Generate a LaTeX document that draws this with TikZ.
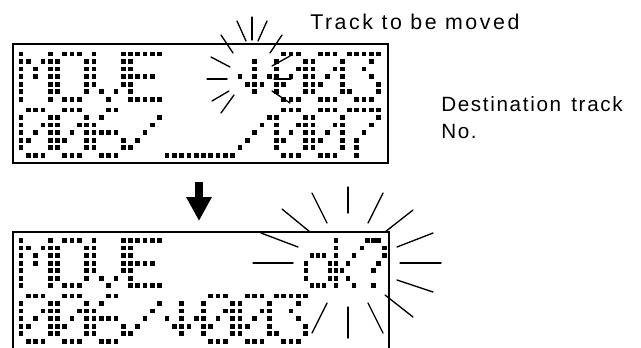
\documentclass[tikz,border=0pt]{standalone}
\usepackage{fontspec}
\setmainfont{Liberation Sans}
\newfontfamily\lblfont[LetterSpace=8]{Liberation Sans}
\newfontfamily\lblwidefont[LetterSpace=12]{Liberation Sans}
\usetikzlibrary{arrows.meta}
% 5x7 dot-matrix glyphs
\def\lcdM{{1,0,0,0,1},{1,1,0,1,1},{1,0,1,0,1},{1,0,1,0,1},{1,0,0,0,1},{1,0,0,0,1},{1,0,0,0,1}}
\def\lcdO{{0,1,1,1,0},{1,0,0,0,1},{1,0,0,0,1},{1,0,0,0,1},{1,0,0,0,1},{1,0,0,0,1},{0,1,1,1,0}}
\def\lcdV{{1,0,0,0,1},{1,0,0,0,1},{1,0,0,0,1},{1,0,0,0,1},{1,0,0,0,1},{0,1,0,1,0},{0,0,1,0,0}}
\def\lcdE{{1,1,1,1,1},{1,0,0,0,0},{1,0,0,0,0},{1,1,1,1,0},{1,0,0,0,0},{1,0,0,0,0},{1,1,1,1,1}}
\def\lcdZero{{0,1,1,1,0},{1,0,0,0,1},{1,0,0,1,1},{1,0,1,0,1},{1,1,0,0,1},{1,0,0,0,1},{0,1,1,1,0}}
\def\lcdSix{{0,0,1,1,0},{0,1,0,0,0},{1,0,0,0,0},{1,1,1,1,0},{1,0,0,0,1},{1,0,0,0,1},{0,1,1,1,0}}
\def\lcdSeven{{1,1,1,1,1},{0,0,0,0,1},{0,0,0,1,0},{0,0,1,0,0},{0,1,0,0,0},{0,1,0,0,0},{0,1,0,0,0}}
\def\lcdThree{{1,1,1,1,1},{0,0,0,1,0},{0,0,1,0,0},{0,0,0,1,0},{0,0,0,0,1},{1,0,0,0,1},{0,1,1,1,0}}
\def\lcdSlash{{0,0,0,0,0},{0,0,0,0,1},{0,0,0,1,0},{0,0,1,0,0},{0,1,0,0,0},{1,0,0,0,0},{0,0,0,0,0}}
\def\lcdUnder{{0,0,0,0,0},{0,0,0,0,0},{0,0,0,0,0},{0,0,0,0,0},{0,0,0,0,0},{0,0,0,0,0},{1,1,1,1,1}}
\def\lcdDown{{0,0,0,0,0},{0,0,1,0,0},{0,0,1,0,0},{1,0,1,0,1},{0,1,1,1,0},{0,0,1,0,0},{0,0,0,0,0}}
\def\lcdLo{{0,0,0,0,0},{0,0,0,0,0},{0,1,1,1,0},{1,0,0,0,1},{1,0,0,0,1},{1,0,0,0,1},{0,1,1,1,0}}
\def\lcdLk{{1,0,0,0,0},{1,0,0,0,0},{1,0,0,1,0},{1,0,1,0,0},{1,1,0,0,0},{1,0,1,0,0},{1,0,0,1,0}}
\def\lcdQ{{0,1,1,1,0},{1,0,0,0,1},{0,0,0,0,1},{0,0,0,1,0},{0,0,1,0,0},{0,0,0,0,0},{0,0,1,0,0}}
% #1 x of first column, #2 y of first row, #3 glyph, #4 column pitch
\newcommand\lcdat[4]{%
  \foreach \rowlist [count=\rr] in #3 {%
    \foreach \v [count=\cc] in \rowlist {%
      \ifnum\v=1
        \fill[lcddot] ({#1+#4*(\cc-1)-2.35},{#2+7.55*(\rr-1)-2.35}) rectangle ++(4.7,4.7);
      \fi
    }%
  }%
}
% #1 y of first row, #2 character cell, #3 glyph
\newcommand\lcdcell[3]{\lcdat{21+36.5*#2}{#1}{#3}{7.3}}
\tikzset{
  lcddot/.style={fill=black},
  boxline/.style={line width=1.9pt},
  ray/.style={line width=1pt, line cap=round},
  lbl/.style={inner sep=0pt, font=\lblfont\fontsize{15.5}{18}\selectfont},
  lblwide/.style={inner sep=0pt, font=\lblwidefont\fontsize{16}{19}\selectfont},
}
\begin{document}
\begin{tikzpicture}[x=0.75pt,y=-0.75pt]
\useasboundingbox (0,0) rectangle (641,347);
% display frames
\draw[boxline] (13,44) rectangle (388,163);
\draw[boxline] (13,352) -- (13,232) -- (389,232) -- (389,352);
% top display, line 1
\lcdcell{54}{0}{\lcdM}
\lcdcell{54}{1}{\lcdO}
\lcdcell{54}{2}{\lcdV}
\lcdcell{54}{3}{\lcdE}
\lcdcell{54}{6}{\lcdDown}
\lcdcell{54}{7}{\lcdZero}
\lcdcell{54}{8}{\lcdZero}
\lcdcell{54}{9}{\lcdThree}
% top display, line 2
\lcdcell{110}{0}{\lcdZero}
\lcdcell{110}{1}{\lcdZero}
\lcdcell{110}{2}{\lcdSix}
\lcdcell{110}{3}{\lcdSlash}
\lcdcell{110}{4}{\lcdUnder}
\lcdcell{110}{5}{\lcdUnder}
\lcdcell{110}{6}{\lcdSlash}
\lcdcell{110}{7}{\lcdZero}
\lcdcell{110}{8}{\lcdZero}
\lcdcell{110}{9}{\lcdSeven}
% bottom display, line 1
\lcdcell{240.5}{0}{\lcdM}
\lcdcell{240.5}{1}{\lcdO}
\lcdcell{240.5}{2}{\lcdV}
\lcdcell{240.5}{3}{\lcdE}
\lcdat{306}{240.5}{\lcdLo}{6}
\lcdat{336}{240.5}{\lcdLk}{6}
\lcdat{362}{240.5}{\lcdQ}{5.6}
% bottom display, line 2
\lcdcell{296}{0}{\lcdZero}
\lcdcell{296}{1}{\lcdZero}
\lcdcell{296}{2}{\lcdSix}
\lcdcell{296}{3}{\lcdSlash}
\lcdcell{296}{4}{\lcdDown}
\lcdcell{296}{5}{\lcdZero}
\lcdcell{296}{6}{\lcdZero}
\lcdcell{296}{7}{\lcdThree}
% blinking rays, top display
\draw[ray] (252,17) -- (252,40);
\draw[ray] (237,21) -- (246,41);
\draw[ray] (267,21) -- (258,41);
\draw[ray] (221,35) -- (233,53);
\draw[ray] (282,35) -- (270,53);
\draw[ray] (211,57) -- (230,67);
\draw[ray] (207,79) -- (227,79);
\draw[ray] (212,101) -- (229,91);
\draw[ray] (221,113) -- (234,95);
\draw[ray] (272,66) -- (290,56);
\draw[ray] (274,79) -- (291,79);
\draw[ray] (272,91) -- (290,103);
% blinking rays, bottom display
\draw[ray] (348,187) -- (348,213);
\draw[ray] (312,193) -- (327,223);
\draw[ray] (383,193) -- (368,223);
\draw[ray] (282,209) -- (310,232);
\draw[ray] (413,210) -- (385,232);
\draw[ray] (261,233) -- (298,247);
\draw[ray] (433,233) -- (397,247);
\draw[ray] (253,263) -- (293,263);
\draw[ray] (400,263) -- (441,263);
\draw[ray] (397,280) -- (433,292);
\draw[ray] (385,295) -- (413,317);
\draw[ray] (327,303) -- (312,333);
\draw[ray] (348,307) -- (348,338);
\draw[ray] (368,303) -- (383,333);
% step arrow
\coordinate (arrfrom) at (199,182);
\coordinate (arrto) at (199,221);
\draw[line width=6pt, -{Triangle[length=18pt,width=18pt]}] (arrfrom) -- (arrto);
% labels
\node[lblwide, anchor=base west] (moved) at (310,29) {Track to be moved};
\node[lbl, anchor=base west] (dest) at (441,111) {Destination};
\node[lbl, anchor=base east] (trk) at (623,111) {track};
\node[lbl, anchor=base west] (no) at (441,138) {No.};
\end{tikzpicture}
\end{document}
